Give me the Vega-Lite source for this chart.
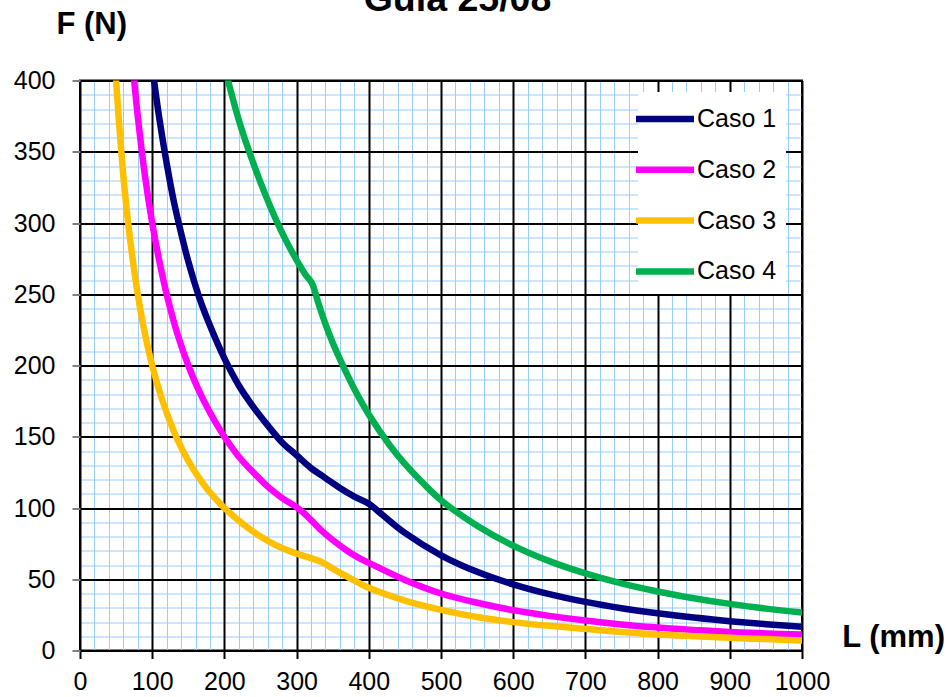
{
  "$schema": "https://vega.github.io/schema/vega-lite/v6.json",
  "width": 722,
  "height": 570,
  "autosize": {"type": "none"},
  "padding": {"left": 80, "top": 80.5, "right": 148, "bottom": 46.5},
  "background": "white",
  "title": {"text": "Guía 25/08", "font": "Liberation Sans", "fontSize": 37.5, "fontWeight": "bold", "color": "black", "anchor": "middle", "frame": "group", "dx": 16.5, "offset": -39.5, "baseline": "alphabetic"},
  "config": {
    "view": {"stroke": "black", "strokeWidth": 2},
    "axis": {"labelFont": "Liberation Sans", "labelFontSize": 25, "labelColor": "black", "titleFont": "Liberation Sans", "titleFontSize": 31, "titleFontWeight": "bold", "titleColor": "black", "labelOverlap": false, "labelFlush": false, "format": "d"}
  },
  "data": {"values": [
    {"serie": "Caso 1", "L": 102.5, "F": 400},
    {"serie": "Caso 1", "L": 110, "F": 373},
    {"serie": "Caso 1", "L": 120, "F": 342},
    {"serie": "Caso 1", "L": 130, "F": 315},
    {"serie": "Caso 1", "L": 140, "F": 293},
    {"serie": "Caso 1", "L": 150, "F": 273},
    {"serie": "Caso 1", "L": 165, "F": 248},
    {"serie": "Caso 1", "L": 180, "F": 228},
    {"serie": "Caso 1", "L": 200, "F": 205},
    {"serie": "Caso 1", "L": 220, "F": 186},
    {"serie": "Caso 1", "L": 240, "F": 171},
    {"serie": "Caso 1", "L": 260, "F": 158},
    {"serie": "Caso 1", "L": 280, "F": 146},
    {"serie": "Caso 1", "L": 300, "F": 137},
    {"serie": "Caso 1", "L": 320, "F": 128},
    {"serie": "Caso 1", "L": 340, "F": 121},
    {"serie": "Caso 1", "L": 360, "F": 114},
    {"serie": "Caso 1", "L": 380, "F": 108},
    {"serie": "Caso 1", "L": 400, "F": 103},
    {"serie": "Caso 1", "L": 420, "F": 94.7},
    {"serie": "Caso 1", "L": 450, "F": 82.5},
    {"serie": "Caso 1", "L": 500, "F": 66.8},
    {"serie": "Caso 1", "L": 550, "F": 55.2},
    {"serie": "Caso 1", "L": 600, "F": 46.4},
    {"serie": "Caso 1", "L": 650, "F": 39.5},
    {"serie": "Caso 1", "L": 700, "F": 34.1},
    {"serie": "Caso 1", "L": 750, "F": 29.7},
    {"serie": "Caso 1", "L": 800, "F": 26.1},
    {"serie": "Caso 1", "L": 850, "F": 23.1},
    {"serie": "Caso 1", "L": 900, "F": 20.6},
    {"serie": "Caso 1", "L": 950, "F": 18.5},
    {"serie": "Caso 1", "L": 1000, "F": 16.7},
    {"serie": "Caso 2", "L": 75, "F": 400},
    {"serie": "Caso 2", "L": 80, "F": 375},
    {"serie": "Caso 2", "L": 90, "F": 333},
    {"serie": "Caso 2", "L": 100, "F": 300},
    {"serie": "Caso 2", "L": 110, "F": 273},
    {"serie": "Caso 2", "L": 120, "F": 250},
    {"serie": "Caso 2", "L": 135, "F": 222},
    {"serie": "Caso 2", "L": 150, "F": 200},
    {"serie": "Caso 2", "L": 165, "F": 182},
    {"serie": "Caso 2", "L": 180, "F": 167},
    {"serie": "Caso 2", "L": 200, "F": 150},
    {"serie": "Caso 2", "L": 220, "F": 136},
    {"serie": "Caso 2", "L": 240, "F": 125},
    {"serie": "Caso 2", "L": 260, "F": 115},
    {"serie": "Caso 2", "L": 280, "F": 107},
    {"serie": "Caso 2", "L": 300, "F": 100.5},
    {"serie": "Caso 2", "L": 310, "F": 96.5},
    {"serie": "Caso 2", "L": 320, "F": 91.5},
    {"serie": "Caso 2", "L": 335, "F": 84},
    {"serie": "Caso 2", "L": 350, "F": 77.5},
    {"serie": "Caso 2", "L": 370, "F": 70},
    {"serie": "Caso 2", "L": 388, "F": 64.5},
    {"serie": "Caso 2", "L": 400, "F": 61.5},
    {"serie": "Caso 2", "L": 450, "F": 49.5},
    {"serie": "Caso 2", "L": 500, "F": 40},
    {"serie": "Caso 2", "L": 550, "F": 33.5},
    {"serie": "Caso 2", "L": 600, "F": 28.3},
    {"serie": "Caso 2", "L": 650, "F": 24.3},
    {"serie": "Caso 2", "L": 700, "F": 21},
    {"serie": "Caso 2", "L": 750, "F": 18.3},
    {"serie": "Caso 2", "L": 800, "F": 16.1},
    {"serie": "Caso 2", "L": 850, "F": 14.4},
    {"serie": "Caso 2", "L": 900, "F": 12.9},
    {"serie": "Caso 2", "L": 950, "F": 12},
    {"serie": "Caso 2", "L": 1000, "F": 11.2},
    {"serie": "Caso 3", "L": 50, "F": 400},
    {"serie": "Caso 3", "L": 55, "F": 364},
    {"serie": "Caso 3", "L": 60, "F": 333},
    {"serie": "Caso 3", "L": 65, "F": 308},
    {"serie": "Caso 3", "L": 70, "F": 286},
    {"serie": "Caso 3", "L": 80, "F": 250},
    {"serie": "Caso 3", "L": 90, "F": 222},
    {"serie": "Caso 3", "L": 100, "F": 200},
    {"serie": "Caso 3", "L": 110, "F": 182},
    {"serie": "Caso 3", "L": 120, "F": 167},
    {"serie": "Caso 3", "L": 135, "F": 148},
    {"serie": "Caso 3", "L": 150, "F": 133},
    {"serie": "Caso 3", "L": 165, "F": 121},
    {"serie": "Caso 3", "L": 180, "F": 111},
    {"serie": "Caso 3", "L": 200, "F": 100},
    {"serie": "Caso 3", "L": 225, "F": 89},
    {"serie": "Caso 3", "L": 250, "F": 80},
    {"serie": "Caso 3", "L": 275, "F": 73},
    {"serie": "Caso 3", "L": 300, "F": 68},
    {"serie": "Caso 3", "L": 320, "F": 64.8},
    {"serie": "Caso 3", "L": 333, "F": 62.5},
    {"serie": "Caso 3", "L": 350, "F": 57.5},
    {"serie": "Caso 3", "L": 370, "F": 51.8},
    {"serie": "Caso 3", "L": 388, "F": 47},
    {"serie": "Caso 3", "L": 400, "F": 44},
    {"serie": "Caso 3", "L": 450, "F": 35},
    {"serie": "Caso 3", "L": 500, "F": 28.5},
    {"serie": "Caso 3", "L": 550, "F": 23.5},
    {"serie": "Caso 3", "L": 600, "F": 19.9},
    {"serie": "Caso 3", "L": 650, "F": 17.3},
    {"serie": "Caso 3", "L": 700, "F": 15.2},
    {"serie": "Caso 3", "L": 750, "F": 13},
    {"serie": "Caso 3", "L": 800, "F": 11.2},
    {"serie": "Caso 3", "L": 850, "F": 10},
    {"serie": "Caso 3", "L": 900, "F": 8.9},
    {"serie": "Caso 3", "L": 950, "F": 8},
    {"serie": "Caso 3", "L": 1000, "F": 7},
    {"serie": "Caso 4", "L": 205, "F": 400},
    {"serie": "Caso 4", "L": 215, "F": 381},
    {"serie": "Caso 4", "L": 225, "F": 364},
    {"serie": "Caso 4", "L": 240, "F": 342},
    {"serie": "Caso 4", "L": 255, "F": 322},
    {"serie": "Caso 4", "L": 270, "F": 304},
    {"serie": "Caso 4", "L": 285, "F": 288},
    {"serie": "Caso 4", "L": 300, "F": 274},
    {"serie": "Caso 4", "L": 312, "F": 264},
    {"serie": "Caso 4", "L": 321, "F": 258},
    {"serie": "Caso 4", "L": 330, "F": 244},
    {"serie": "Caso 4", "L": 340, "F": 229},
    {"serie": "Caso 4", "L": 350, "F": 216},
    {"serie": "Caso 4", "L": 365, "F": 199},
    {"serie": "Caso 4", "L": 380, "F": 183.5},
    {"serie": "Caso 4", "L": 400, "F": 165.6},
    {"serie": "Caso 4", "L": 430, "F": 143.3},
    {"serie": "Caso 4", "L": 450, "F": 130.9},
    {"serie": "Caso 4", "L": 475, "F": 117.5},
    {"serie": "Caso 4", "L": 500, "F": 105.5},
    {"serie": "Caso 4", "L": 550, "F": 87.6},
    {"serie": "Caso 4", "L": 600, "F": 73.6},
    {"serie": "Caso 4", "L": 650, "F": 62.7},
    {"serie": "Caso 4", "L": 700, "F": 54.1},
    {"serie": "Caso 4", "L": 750, "F": 47.1},
    {"serie": "Caso 4", "L": 800, "F": 41.4},
    {"serie": "Caso 4", "L": 850, "F": 36.7},
    {"serie": "Caso 4", "L": 900, "F": 32.7},
    {"serie": "Caso 4", "L": 950, "F": 29.4},
    {"serie": "Caso 4", "L": 1000, "F": 26.7}
  ]},
  "layer": [
    {
      "mark": {"type": "point", "opacity": 0},
      "encoding": {
        "x": {"field": "L", "type": "quantitative", "scale": {"domain": [0, 1000], "nice": false, "zero": false},
          "axis": {"orient": "bottom", "values": [0,20,40,60,80,100,120,140,160,180,200,220,240,260,280,300,320,340,360,380,400,420,440,460,480,500,520,540,560,580,600,620,640,660,680,700,720,740,760,780,800,820,840,860,880,900,920,940,960,980,1000],
            "grid": true, "gridColor": "#99CCFF", "gridWidth": 1, "gridOpacity": 1, "labels": false, "ticks": false, "domain": false, "title": null}},
        "y": {"field": "F", "type": "quantitative", "scale": {"domain": [0, 400], "nice": false, "zero": false},
          "axis": {"orient": "left", "values": [0,10,20,30,40,50,60,70,80,90,100,110,120,130,140,150,160,170,180,190,200,210,220,230,240,250,260,270,280,290,300,310,320,330,340,350,360,370,380,390,400],
            "grid": true, "gridColor": "#99CCFF", "gridWidth": 1, "gridOpacity": 1, "labels": false, "ticks": false, "domain": false, "title": null}}
      }
    },
    {
      "mark": {"type": "line", "strokeWidth": 6.5, "interpolate": "catmull-rom", "clip": true, "strokeCap": "round", "strokeJoin": "round"},
      "encoding": {
        "x": {"field": "L", "type": "quantitative",
          "axis": {"orient": "bottom", "values": [0,100,200,300,400,500,600,700,800,900,1000], "grid": false, "domain": false,
            "ticks": true, "tickColor": "black", "tickWidth": 2, "tickSize": -578, "offset": 8, "labelPadding": 589, "labelBaseline": "top",
            "title": "L (mm)", "titleAlign": "left", "titleAnchor": "start", "titleBaseline": "alphabetic", "titleX": 761.7, "titleY": -11.7}},
        "y": {"field": "F", "type": "quantitative",
          "axis": {"orient": "left", "values": [0,50,100,150,200,250,300,350,400], "grid": true, "gridColor": "black", "gridWidth": 2, "gridOpacity": 1, "domain": false,
            "ticks": true, "tickColor": "#808080", "tickWidth": 2, "tickSize": 8, "labelPadding": 17,
            "title": "F (N)", "titleAngle": 0, "titleAlign": "left", "titleAnchor": "start", "titleBaseline": "alphabetic", "titleX": -24, "titleY": -46.7}},
        "color": {"field": "serie", "type": "nominal",
          "scale": {"domain": ["Caso 1", "Caso 2", "Caso 3", "Caso 4"], "range": ["#000080", "#FF00FF", "#FFC000", "#00B050"]},
          "legend": {"orient": "none", "legendX": 558, "legendY": 11.5, "title": null, "fillColor": "white", "strokeColor": null, "padding": 9,
            "symbolType": "M-2,0H2", "symbolSize": 841, "symbolStrokeWidth": 6.5, "labelFont": "Liberation Sans", "labelFontSize": 25, "labelColor": "black", "labelOffset": 14, "rowPadding": 19.8}}
      }
    }
  ],
  "resolve": {"axis": {"x": "independent", "y": "independent"}}
}
